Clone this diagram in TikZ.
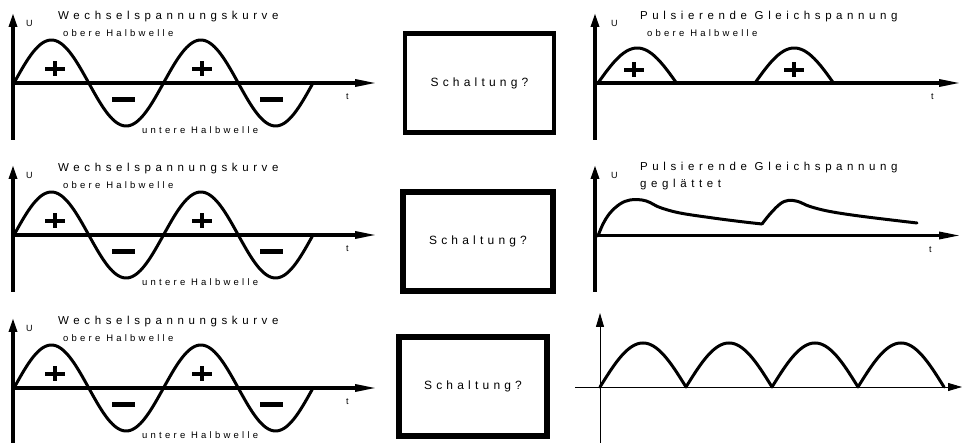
\documentclass[tikz,border=0pt]{standalone}
\usepackage{fontspec}
\setmainfont{Liberation Sans}
\newfontfamily\lsTitle[LetterSpace=40]{Liberation Sans}
\newfontfamily\lsSmall[LetterSpace=34]{Liberation Sans}
\newfontfamily\lsBox[LetterSpace=35]{Liberation Sans}
\usetikzlibrary{arrows.meta}
\begin{document}
\begin{tikzpicture}[x=1pt,y=-1pt,
  axis/.style={line width=3.2pt},
  thinaxis/.style={line width=0.9pt},
  harr/.style={-{Triangle[length=22pt,width=7pt]}},
  varr/.style={-{Triangle[length=14pt,width=8pt]}},
  tharr/.style={-{Triangle[length=14pt,width=8pt]}},
  wave/.style={line width=3pt, line join=round, line cap=round},
  sign/.style={line width=4.2pt},
  ttl/.style={anchor=base west, inner sep=0pt, font=\lsTitle\fontsize{11.5}{13}\selectfont},
  half/.style={anchor=base west, inner sep=0pt, font=\lsSmall\fontsize{9.5}{11}\selectfont},
  lbl/.style={anchor=base west, inner sep=0pt, font=\fontsize{9}{10}\selectfont},
  schbox/.style={draw, minimum height=99pt, inner sep=0pt, font=\lsBox\fontsize{12}{14}\selectfont}
]
\useasboundingbox (0,0) rectangle (962,443);

% ---------- left column: three alternating voltage curves ----------
\foreach \o/\r in {0/1,152/2,305/3}{
  \begin{scope}[shift={(0,\o)}]
    \coordinate (lo\r) at (13,83);
    \coordinate (ltop\r) at (13,13);
    \coordinate (lbot\r) at (13,140);
    \coordinate (lend\r) at (377,83);
    \draw[axis,varr] (lbot\r) -- (ltop\r);
    \draw[axis,harr] (lo\r) -- (lend\r);
    \draw[wave] plot[domain=0:299,samples=150] ({14+\x},{83-43*sin(2.408*\x)});
    \draw[sign] (45,69) -- (65,69) (55,61.5) -- (55,76.5);
    \draw[sign] (192,69) -- (212,69) (202,61.5) -- (202,76.5);
    \draw[sign] (112,99.5) -- (135,99.5);
    \draw[sign] (260,99.5) -- (283,99.5);
    \node[ttl]  (wtitle\r) at (58,20) {Wechselspannungskurve};
    \node[half] (wob\r)    at (63,36.7) {obere Halbwelle};
    \node[half] (wun\r)    at (142,134) {untere Halbwelle};
    \node[lbl]  (wu\r)     at (26,26.7) {U};
    \node[lbl]  (wt\r)     at (346,99.5) {t};
  \end{scope}
}

% ---------- middle column: boxes ----------
\node[schbox, minimum width=149pt, line width=4.5pt] (box1) at (479.5,83) {Schaltung?};
\node[schbox, minimum width=150pt, line width=5.5pt] (box2) at (478,241.5) {Schaltung?};
\node[schbox, minimum width=148pt, line width=5.5pt] (box3) at (473,386.5) {Schaltung?};

% ---------- right column, row 1: half-wave rectified ----------
\coordinate (r1o) at (595,83);
\coordinate (r1top) at (595,13);
\coordinate (r1bot) at (595,140);
\coordinate (r1end) at (961,83);
\draw[axis,varr] (r1bot) -- (r1top);
\draw[axis,harr] (r1o) -- (r1end);
\draw[wave] plot[domain=0:78.5,samples=50] ({598+\x},{83-35*sin(2.293*\x)});
\draw[wave] plot[domain=0:78.5,samples=50] ({755+\x},{83-35*sin(2.293*\x)});
\draw[sign] (624,70) -- (644,70) (634,62.5) -- (634,77.5);
\draw[sign] (784,70) -- (804,70) (794,62.5) -- (794,77.5);
\node[ttl]  (ptitle1) at (640,19.3) {Pulsierende Gleichspannung};
\node[half] (pob1)    at (647,36.7) {obere Halbwelle};
\node[lbl]  (pu1)     at (611,26.7) {U};
\node[lbl]  (pt1)     at (931,100) {t};

% ---------- right column, row 2: smoothed ----------
\coordinate (r2o) at (595,235.5);
\coordinate (r2top) at (595,165);
\coordinate (r2bot) at (595,292);
\coordinate (r2end) at (961,235.5);
\draw[axis,varr] (r2bot) -- (r2top);
\draw[axis,harr] (r2o) -- (r2end);
\draw[wave] plot[smooth, tension=0.6] coordinates {(598,236) (603,224) (610,213) (620,204) (630,200) (642,200) (650,202.5) (660,207.5) (680,213) (713,218) (740,221.5) (762,224)};
\draw[wave] plot[smooth, tension=0.6] coordinates {(762,224) (770,214) (780,204) (788,200.5) (798,201.5) (810,206.5) (830,211.5) (863,216.5) (917,223)};
\node[ttl] (ptitle2) at (640,171) {Pulsierende Gleichspannung};
\node[ttl] (pgl2)    at (640,187.5) {geglättet};
\node[lbl] (pu2)     at (611,178.3) {U};
\node[lbl] (pt2)     at (929,252.7) {t};

% ---------- right column, row 3: full-wave rectified ----------
\coordinate (r3o) at (600,387);
\coordinate (r3left) at (575,387);
\coordinate (r3top) at (600,313);
\coordinate (r3bot) at (600,445);
\coordinate (r3end) at (962,387);
\draw[thinaxis,tharr] (r3bot) -- (r3top);
\draw[thinaxis,tharr] (r3left) -- (r3end);
\draw[wave] plot[domain=0:344,samples=345] ({600+\x},{387-44*abs(sin(2.0930*\x))});
\end{tikzpicture}
\end{document}
